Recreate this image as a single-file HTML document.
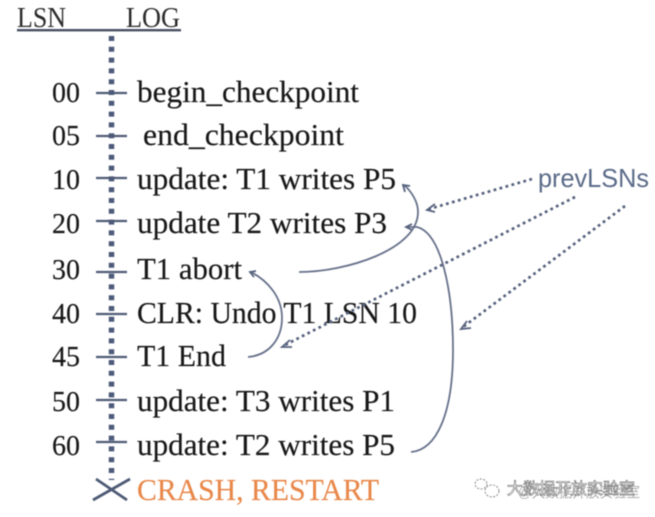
<!DOCTYPE html>
<html lang="zh">
<head>
<meta charset="utf-8">
<title>LSN Log Diagram</title>
<style>
html,body{margin:0;padding:0;background:#fff;}
body{width:655px;height:517px;overflow:hidden;}
svg{display:block;}
.s{font-family:"Liberation Serif","Noto Serif CJK SC",serif;font-size:31px;fill:#151515;stroke:#151515;stroke-width:0.15;}
.n{font-size:29px;}
.h{font-size:28px;fill:#2a2a2a;stroke:none;}
.t{stroke:#4d5a75;stroke-width:2.2;fill:none;}
.c{stroke:#66718a;stroke-width:1.8;fill:none;}
.d{stroke:#55617c;stroke-width:2.7;stroke-dasharray:2.8 3.4;fill:none;}
.a{fill:none;stroke:#55617c;stroke-width:1.8;}
</style>
</head>
<body>
<svg width="655" height="517" viewBox="0 0 655 517" xmlns="http://www.w3.org/2000/svg">
<rect width="655" height="517" fill="#fff"/>
<defs><filter id="b" x="-5%" y="-5%" width="110%" height="110%"><feGaussianBlur stdDeviation="0.45"/></filter></defs>
<g filter="url(#b)">
<text class="s h" x="17" y="27" textLength="49" lengthAdjust="spacingAndGlyphs">LSN</text>
<text class="s h" x="126" y="27" textLength="54" lengthAdjust="spacingAndGlyphs">LOG</text>
<rect x="17" y="29" width="164" height="2.4" fill="#4a4f63"/>

<line x1="111.5" y1="36" x2="111.5" y2="480" stroke="#4d5a7a" stroke-width="5.5" stroke-dasharray="5 5.8"/>

<g class="t">
<line x1="96" y1="93" x2="127" y2="93"/>
<line x1="96" y1="136" x2="127" y2="136"/>
<line x1="96" y1="178" x2="127" y2="178"/>
<line x1="96" y1="221" x2="127" y2="221"/>
<line x1="96" y1="272" x2="127" y2="272"/>
<line x1="96" y1="314" x2="127" y2="314"/>
<line x1="96" y1="357" x2="127" y2="357"/>
<line x1="96" y1="400" x2="127" y2="400"/>
<line x1="96" y1="442" x2="127" y2="442"/>
<line x1="93" y1="500" x2="130" y2="479" stroke-width="2.8"/>
<line x1="96" y1="479" x2="127" y2="500" stroke-width="2.8"/>
</g>

<g class="s">
<text class="n" x="52" y="102" textLength="28" lengthAdjust="spacingAndGlyphs">00</text>
<text class="n" x="52" y="145" textLength="28" lengthAdjust="spacingAndGlyphs">05</text>
<text class="n" x="52" y="189" textLength="28" lengthAdjust="spacingAndGlyphs">10</text>
<text class="n" x="52" y="233" textLength="28" lengthAdjust="spacingAndGlyphs">20</text>
<text class="n" x="52" y="279" textLength="28" lengthAdjust="spacingAndGlyphs">30</text>
<text class="n" x="52" y="323" textLength="28" lengthAdjust="spacingAndGlyphs">40</text>
<text class="n" x="52" y="366" textLength="28" lengthAdjust="spacingAndGlyphs">45</text>
<text class="n" x="52" y="411" textLength="28" lengthAdjust="spacingAndGlyphs">50</text>
<text class="n" x="52" y="455" textLength="28" lengthAdjust="spacingAndGlyphs">60</text>

<text x="137" y="102" textLength="222" lengthAdjust="spacingAndGlyphs">begin_checkpoint</text>
<text x="143" y="145" textLength="201" lengthAdjust="spacingAndGlyphs">end_checkpoint</text>
<text x="137" y="189" textLength="259" lengthAdjust="spacingAndGlyphs">update: T1 writes P5</text>
<text x="137" y="233" textLength="250" lengthAdjust="spacingAndGlyphs">update T2 writes P3</text>
<text x="137" y="279" textLength="105" lengthAdjust="spacingAndGlyphs">T1 abort</text>
<text x="137" y="323" textLength="280" lengthAdjust="spacingAndGlyphs">CLR: Undo T1 LSN 10</text>
<text x="137" y="366" textLength="89" lengthAdjust="spacingAndGlyphs">T1 End</text>
<text x="137" y="411" textLength="258" lengthAdjust="spacingAndGlyphs">update: T3 writes P1</text>
<text x="137" y="455" textLength="258" lengthAdjust="spacingAndGlyphs">update: T2 writes P5</text>
<text x="137" y="500" textLength="242" lengthAdjust="spacingAndGlyphs" style="fill:#e8874a;stroke:#e8874a">CRASH, RESTART</text>
</g>

<path class="c" d="M248 357 C270 355 282 338 282 318 C282 297 268 281 251 272"/>
<path class="a" d="M256 271 L250 272 L254 277"/>

<path class="c" d="M299 272 C345 272 418 250 418 212 C418 202 412 192 404 185"/>
<path class="a" d="M410 186 L403 185 L405 192"/>

<path class="c" d="M411 452 C436 450 453 415 453 350 C453 290 441 233 417 227 L406 227"/>
<path class="a" d="M412 224 L406 227 L412 230"/>

<line class="d" x1="532" y1="179" x2="429" y2="209"/>
<path class="a" d="M435 204 L427 210 L435 212"/>
<line class="d" x1="575" y1="197" x2="285" y2="345"/>
<path class="a" d="M290 340 L282 347 L292 347"/>
<line class="d" x1="625" y1="206" x2="463" y2="327"/>
<path class="a" d="M467 321 L461 329 L471 328"/>

<text x="538" y="187" textLength="111" lengthAdjust="spacingAndGlyphs" style="font-family:'Liberation Sans',sans-serif;font-size:26px;fill:#5a6b88">prevLSNs</text>

<g fill="none" stroke="#8a8a8a" stroke-width="1" stroke-dasharray="2 1.5">
<ellipse cx="481" cy="484" rx="6" ry="5"/>
<ellipse cx="492" cy="491" rx="7" ry="6"/>
</g>
<text x="518" y="497" textLength="122" lengthAdjust="spacingAndGlyphs" style="font-family:'Liberation Sans','Noto Sans CJK SC',sans-serif;font-size:15px;fill:#aeaeae">@大数据开放实验室</text>
<text x="507" y="494" textLength="128" lengthAdjust="spacingAndGlyphs" style="font-family:'Liberation Sans','Noto Sans CJK SC',sans-serif;font-size:16px;fill:#fff;stroke:#555;stroke-width:0.6">大数据开放实验室</text>
</g>
</svg>
</body>
</html>
